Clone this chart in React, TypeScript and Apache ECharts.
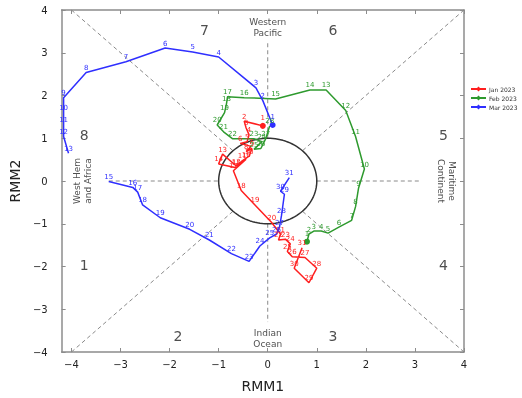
import React, { useEffect, useRef } from "react";
import * as echarts from "echarts";

// Jan 2023 (days 1..31)
const janX = [-0.10, -0.48, -0.44, -0.38, -0.42, -0.56, -0.34, -0.44, -0.32, -0.38, -0.52, -0.64, -0.92, -1.00, -0.64, -0.44, -0.70, -0.54, -0.26, 0.08, 0.26, 0.22, 0.36, 0.46, 0.40, 0.50, 0.76, 1.00, 0.84, 0.54, 0.70];
const janY = [1.29, 1.40, 1.24, 1.08, 0.92, 0.88, 0.81, 0.69, 0.76, 0.58, 0.47, 0.35, 0.63, 0.40, 0.31, 0.51, 0.24, -0.22, -0.56, -0.97, -1.24, -1.38, -1.36, -1.47, -1.65, -1.77, -1.79, -2.04, -2.38, -2.04, -1.56];
// Feb 2023 (days 1..28)
const febX = [0.80, 0.84, 0.94, 1.09, 1.23, 1.45, 1.71, 1.79, 1.85, 1.97, 1.79, 1.59, 1.19, 0.86, 0.16, -0.48, -0.82, -0.84, -0.88, -1.03, -0.90, -0.72, -0.28, -0.12, -0.28, -0.14, -0.04, 0.04];
const febY = [-1.42, -1.24, -1.17, -1.17, -1.22, -1.08, -0.92, -0.60, -0.17, 0.28, 1.04, 1.65, 2.13, 2.13, 1.92, 1.95, 1.97, 1.81, 1.60, 1.31, 1.15, 0.99, 0.99, 0.92, 0.74, 0.76, 0.99, 1.29];
// Mar 2023 days 1..13
const marAX = [0.10, -0.10, -0.24, -1.00, -1.53, -2.09, -2.89, -3.70, -4.16, -4.16, -4.16, -4.16, -4.06];
const marAY = [1.31, 1.88, 2.18, 2.90, 3.02, 3.11, 2.79, 2.54, 1.95, 1.60, 1.31, 1.04, 0.65];
// Mar 2023 days 15..31 (day 14 missing)
const marBX = [-3.24, -2.75, -2.65, -2.55, -2.19, -1.59, -1.19, -0.74, -0.38, -0.16, 0.04, 0.18, 0.24, 0.28, 0.34, 0.26, 0.44];
const marBY = [-0.01, -0.15, -0.26, -0.56, -0.86, -1.13, -1.38, -1.70, -1.88, -1.52, -1.33, -1.24, -1.08, -0.81, -0.31, -0.24, 0.08];

const xTicks = [-4, -3, -2, -1, 0, 1, 2, 3, 4];

const phaseLabels = ["1", "2", "3", "4", "5", "6", "7", "8"];
const phaseX = [-3.74, -1.83, 1.33, 3.58, 3.58, 1.33, -1.29, -3.74];
const phaseY = [-1.97, -3.63, -3.63, -1.97, 1.08, 3.54, 3.54, 1.08];

const regionNames = ["Western\nPacific", "Indian\nOcean", "West Hem\nand Africa", "Maritime\nContinent"];
const regionX = [0.0, 0.0, -3.78, 3.64];
const regionY = [3.59, -3.68, 0, 0];
const regionRot = [0, 0, 90, -90];

const FONT = "DejaVu Sans";
const RED = "#ff1f1f";
const GREEN = "#2e9a2e";
const BLUE = "#2f2fff";

function track(name: string, color: string, xs: number[], ys: number[], dayStart: number, markStart: boolean) {
  return {
    type: "line",
    name,
    xAxisIndex: 0,
    yAxisIndex: 0,
    symbol: "diamond",
    symbolSize: 0,
    showSymbol: true,
    z: 5,
    lineStyle: { color, width: 1.5 },
    itemStyle: { color },
    label: {
      show: true,
      position: "top",
      distance: 1,
      fontSize: 7,
      fontFamily: FONT,
      color,
      formatter: (p: any) => String(p.dataIndex + dayStart),
    },
    data: xs.map((x, i) =>
      i === 0 && markStart
        ? { value: [x, ys[i]], symbol: "circle", symbolSize: 6 }
        : { value: [x, ys[i]] }
    ),
  };
}

function seg(a: number[], b: number[], dashed = true, color = "#8a8a8a", width = 1) {
  return {
    type: "line",
    xAxisIndex: 0,
    yAxisIndex: 0,
    symbol: "none",
    silent: true,
    z: 1,
    lineStyle: { color, width, type: dashed ? [4, 3] : "solid" },
    data: [a, b],
  };
}

export default function App() {
  const ref = useRef<HTMLDivElement>(null);
  useEffect(() => {
    if (!ref.current) return;
    const chart = echarts.init(ref.current, undefined, { renderer: "svg" });
    const r = Math.SQRT1_2;
    const circle: number[][] = [];
    for (let i = 0; i <= 120; i++) {
      const t = (i / 120) * Math.PI * 2;
      circle.push([Math.cos(t), Math.sin(t)]);
    }
    const axisLine = { show: true, onZero: false, lineStyle: { color: "#8c8c8c", width: 1.5 } };
    const tick = { show: true, inside: true, length: 4, lineStyle: { color: "#8c8c8c", width: 1 } };
    const fmt = (v: number) => (v < 0 ? "\u2212" + Math.abs(v) : String(v));
    const option: any = {
      animation: false,
      textStyle: { fontFamily: FONT },
      grid: { left: 56, right: 58, top: 10, bottom: 37, show: false },
      legend: {
        data: ["Jan 2023", "Feb 2023", "Mar 2023"],
        orient: "vertical",
        left: 465,
        top: 81,
        itemWidth: 15,
        itemHeight: 6,
        itemGap: 3,
        textStyle: { fontSize: 6, color: "#333", fontFamily: FONT, padding: [0, 0, 0, -2] },
      },
      xAxis: [
        {
          type: "value",
          min: -4.2,
          max: 4,
          position: "bottom",
          name: "RMM1",
          nameLocation: "middle",
          nameGap: 27,
          nameTextStyle: { fontSize: 14, color: "#222", fontFamily: FONT },
          axisLine,
          axisTick: { ...tick, customValues: xTicks },
          axisLabel: { customValues: xTicks, fontSize: 10, color: "#222", margin: 7, formatter: fmt, fontFamily: FONT },
          splitLine: { show: false },
        },
        {
          type: "value",
          min: -4.2,
          max: 4,
          position: "top",
          axisLine,
          axisTick: { ...tick, customValues: xTicks },
          axisLabel: { show: false },
          splitLine: { show: false },
        },
      ],
      yAxis: [
        {
          type: "value",
          min: -4,
          max: 4,
          interval: 1,
          position: "left",
          name: "RMM2",
          nameLocation: "middle",
          nameGap: 32,
          nameTextStyle: { fontSize: 14, color: "#222", fontFamily: FONT },
          axisLine,
          axisTick: tick,
          axisLabel: { fontSize: 10, color: "#222", margin: 14, formatter: fmt, fontFamily: FONT },
          splitLine: { show: false },
        },
        {
          type: "value",
          min: -4,
          max: 4,
          interval: 1,
          position: "right",
          axisLine,
          axisTick: tick,
          axisLabel: { show: false },
          splitLine: { show: false },
        },
      ],
      series: [
        seg([-4, 4], [-r, r]),
        seg([4, 4], [r, r]),
        seg([-4, -4], [-r, -r]),
        seg([4, -4], [r, -r]),
        seg([-3.24, 0], [-1, 0]),
        seg([1, 0], [3.1, 0]),
        seg([0, 1], [0, 3.27]),
        seg([0, -1], [0, -3.3]),
        {
          type: "line",
          symbol: "none",
          silent: true,
          z: 2,
          lineStyle: { color: "#333", width: 1.5 },
          data: circle,
        },
        {
          type: "scatter",
          symbolSize: 0,
          silent: true,
          z: 3,
          label: { show: true, position: "inside", fontSize: 14, color: "#222", fontFamily: FONT, formatter: (p: any) => phaseLabels[p.dataIndex] },
          data: phaseX.map((x, i) => [x, phaseY[i]]),
        },
        {
          type: "scatter",
          symbolSize: 0,
          silent: true,
          z: 3,
          data: regionX.map((x, i) => ({
            value: [x, regionY[i]],
            label: {
              show: true,
              position: "inside",
              rotate: regionRot[i],
              fontSize: 9,
              lineHeight: 11,
              color: "#222",
              fontFamily: FONT,
              align: "center",
              formatter: regionNames[i],
            },
          })),
        },
        track("Jan 2023", RED, janX, janY, 1, true),
        track("Feb 2023", GREEN, febX, febY, 1, true),
        track("Mar 2023", BLUE, marAX, marAY, 1, true),
        track("Mar 2023", BLUE, marBX, marBY, 15, false),
      ],
    };
    chart.setOption(option);
    return () => chart.dispose();
  }, []);
  return <div ref={ref} style={{ position: "fixed", left: 0, top: 0, width: 522, height: 398 }} />;
}
